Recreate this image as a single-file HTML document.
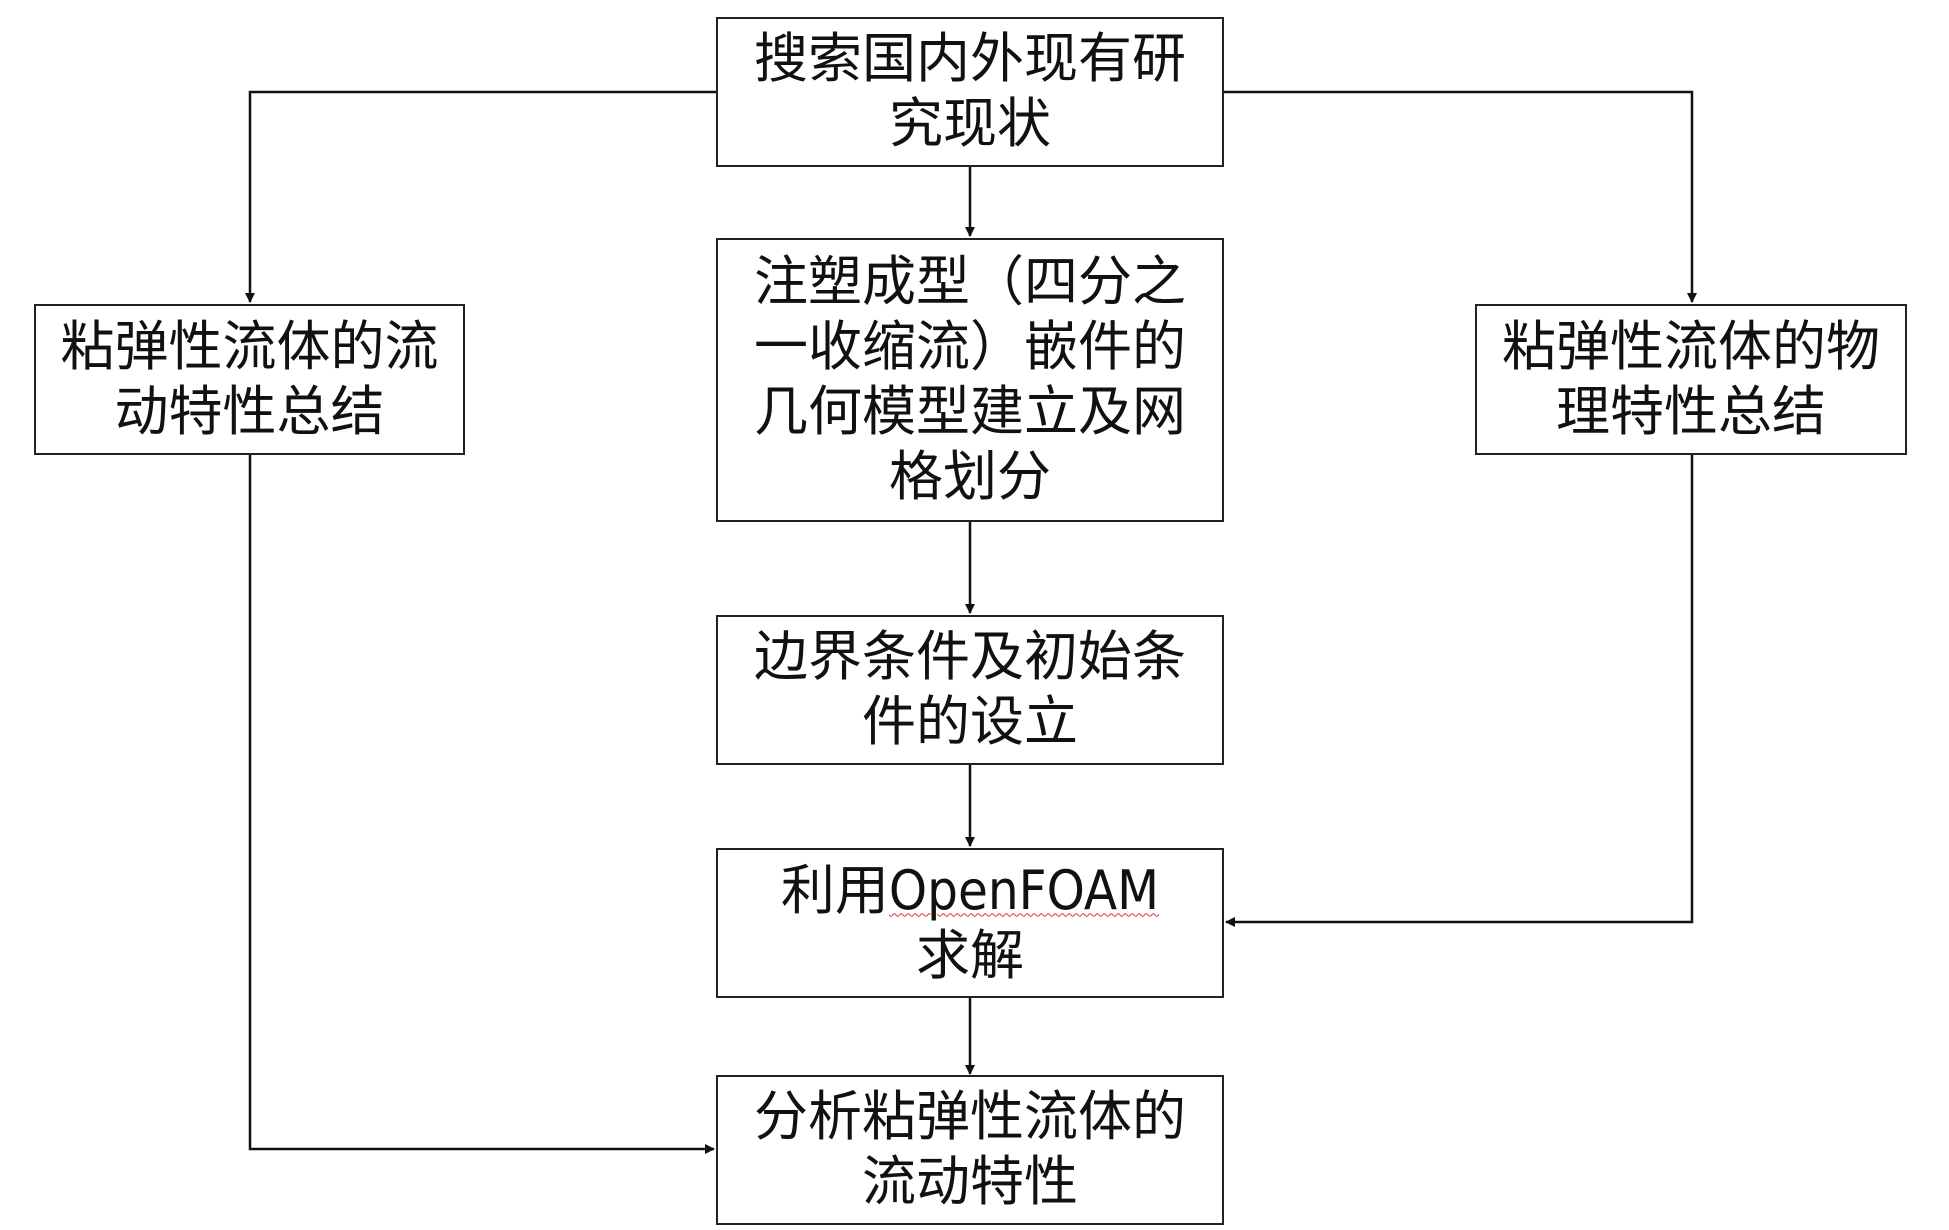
<!DOCTYPE html>
<html><head><meta charset="utf-8"><style>
body{margin:0;width:1949px;height:1230px;background:#fff;position:relative;overflow:hidden;font-family:"Liberation Sans","Noto Sans CJK SC",sans-serif;}
.b{position:absolute;border:2px solid #222;box-sizing:border-box;display:flex;align-items:center;justify-content:center;text-align:center;font-size:54px;line-height:65px;color:#111;padding:0;white-space:nowrap;}
svg{position:absolute;left:0;top:0}
.u{text-decoration:underline wavy #d33;text-decoration-thickness:1px;text-underline-offset:4px;font-family:"DejaVu Sans Condensed","Liberation Sans Narrow","Liberation Sans",sans-serif;letter-spacing:0px}
</style></head><body>
<svg width="1949" height="1230">
<defs><marker id="a" markerWidth="10" markerHeight="10" refX="9" refY="5" orient="auto" markerUnits="userSpaceOnUse"><path d="M0,0 L10,5 L0,10 z" fill="#111"/></marker></defs>
<g stroke="#111" stroke-width="2.5" fill="none">
<polyline points="716,92 250,92 250,302" marker-end="url(#a)"/>
<polyline points="1224,92 1692,92 1692,302" marker-end="url(#a)"/>
<line x1="970" y1="166" x2="970" y2="236" marker-end="url(#a)"/>
<line x1="970" y1="521" x2="970" y2="613" marker-end="url(#a)"/>
<line x1="970" y1="764" x2="970" y2="846" marker-end="url(#a)"/>
<line x1="970" y1="997" x2="970" y2="1074" marker-end="url(#a)"/>
<polyline points="250,454 250,1149 714,1149" marker-end="url(#a)"/>
<polyline points="1692,454 1692,922 1226,922" marker-end="url(#a)"/>
</g></svg>
<div class="b" style="left:716px;top:17px;width:508px;height:150px">搜索国内外现有研<br>究现状</div>
<div class="b" style="left:716px;top:238px;width:508px;height:284px">注塑成型（四分之<br>一收缩流）嵌件的<br>几何模型建立及网<br>格划分</div>
<div class="b" style="left:716px;top:615px;width:508px;height:150px">边界条件及初始条<br>件的设立</div>
<div class="b" style="left:716px;top:848px;width:508px;height:150px"><span>利用<span class="u">OpenFOAM</span><br>求解</span></div>
<div class="b" style="left:716px;top:1075px;width:508px;height:150px">分析粘弹性流体的<br>流动特性</div>
<div class="b" style="left:34px;top:304px;width:431px;height:151px">粘弹性流体的流<br>动特性总结</div>
<div class="b" style="left:1475px;top:304px;width:432px;height:151px">粘弹性流体的物<br>理特性总结</div>
</body></html>
